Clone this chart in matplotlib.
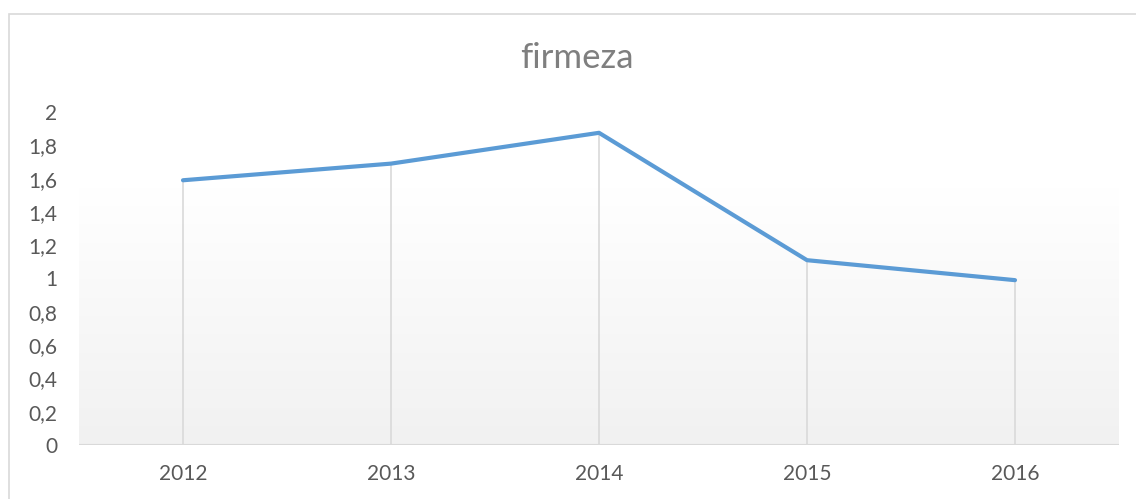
import matplotlib
matplotlib.use("Agg")
import matplotlib.pyplot as plt
from matplotlib.patches import Rectangle
import numpy as np

# data
years = ["2012", "2013", "2014", "2015", "2016"]
firmeza = [1.59, 1.69, 1.875, 1.11, 0.99]
yticks = [0, 0.2, 0.4, 0.6, 0.8, 1, 1.2, 1.4, 1.6, 1.8, 2]
ytick_labels = ["0", "0,2", "0,4", "0,6", "0,8", "1", "1,2", "1,4", "1,6", "1,8", "2"]

plt.rcParams["font.family"] = ["Lato", "DejaVu Sans"]

fig = plt.figure(figsize=(11.36, 4.99), dpi=100)
ax = fig.add_axes([79 / 1136, 1 - 445 / 499, (1119 - 79) / 1136, (445 - 112) / 499])

x = np.arange(len(years))

# gradient background of the plot area (white on top, light grey at bottom)
grad = np.linspace(0, 1, 256).reshape(-1, 1)
top = np.array([1.0, 1.0, 1.0])
bottom = np.array([0xf1, 0xf1, 0xf1]) / 255
img = bottom + (top - bottom) * grad
img = img[:, None, :].repeat(2, axis=1)
ax.imshow(img, origin="lower", extent=(-0.5, 4.5, 0, 1.545), aspect="auto", zorder=0)

# drop lines
ax.vlines(x, 0, firmeza, color="#d9d9d9", linewidth=1.2, zorder=1)
# category axis line
ax.axhline(0, color="#d9d9d9", linewidth=1.5, zorder=1)

ax.plot(x, firmeza, color="#5b9bd5", linewidth=3.0, solid_capstyle="round",
        solid_joinstyle="round", zorder=3, clip_on=False)

ax.set_xlim(-0.5, 4.5)
ax.set_ylim(0, 2)
ax.set_xticks(x)
ax.set_xticklabels(years)
ax.set_yticks(yticks)
ax.set_yticklabels(ytick_labels)
ax.tick_params(axis="both", length=0, labelsize=15, labelcolor="#595959")
ax.tick_params(axis="y", pad=15.5)
ax.tick_params(axis="x", pad=14)
for s in ax.spines.values():
    s.set_visible(False)
ax.set_facecolor("none")

fig.text(577 / 1136, 1 - 58 / 499, "firmeza", ha="center", va="center",
         fontsize=25, color="#7f7f7f")

# chart area border
fig.patches.append(Rectangle((8.5 / 1136, -0.2), 2, 1 - 13.5 / 499 + 0.2,
                             transform=fig.transFigure, fill=False,
                             edgecolor="#d9d9d9", linewidth=1.2))

fig.savefig("out.png", dpi=100)
